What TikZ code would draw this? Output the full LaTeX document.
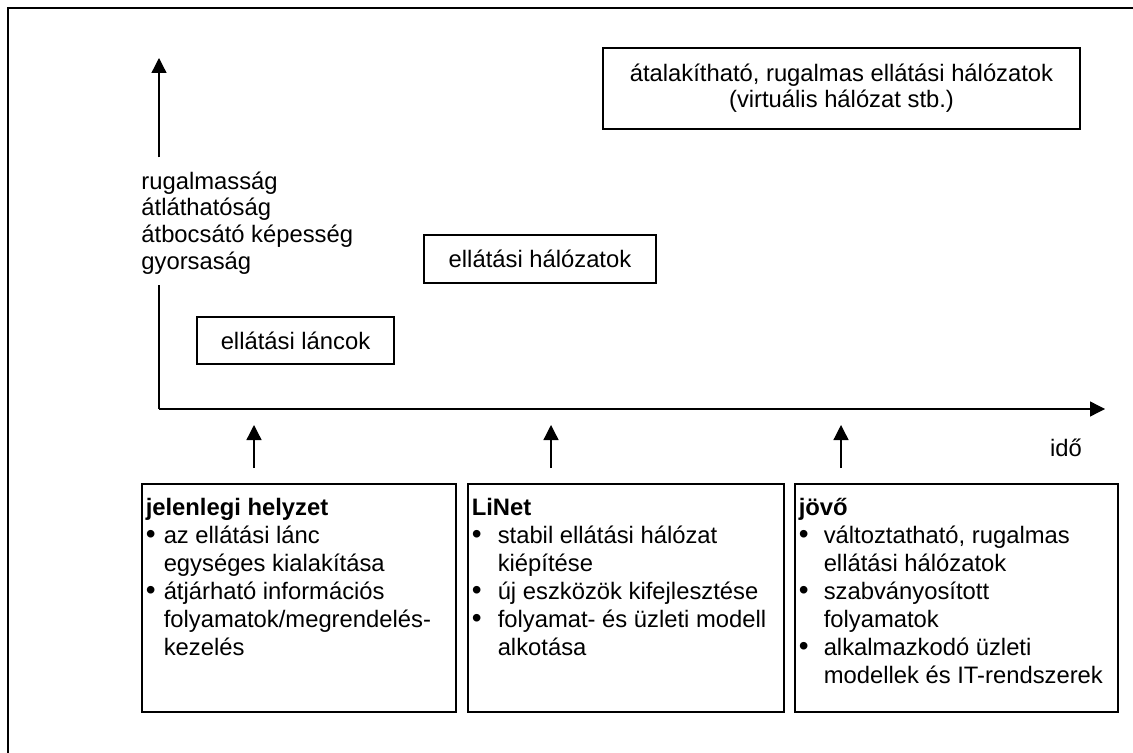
\documentclass[tikz,border=0pt]{standalone}
\usepackage{fontspec}
\setmainfont{Liberation Sans}
\usetikzlibrary{arrows.meta}
\newcommand{\stitem}[2]{\par\hangindent=#1\hangafter=1\noindent\makebox[#1][l]{\raisebox{-0.4pt}{\fontsize{14}{14}\selectfont\textbullet}}#2}
\newcommand{\stagetext}[2]{\parbox[c][100pt][t]{#1}{\fontsize{11.9}{14}\selectfont\parindent=0pt #2}}
\begin{document}
\begin{tikzpicture}[x=0.5pt,y=-0.5pt,font=\fontsize{11.9}{13.3}\selectfont,
  ax/.style={line width=0.65pt,-{Triangle[length=7.5pt,width=7.5pt]}},
  bx/.style={draw,line width=0.75pt,inner sep=0pt,align=center},
  st/.style={draw,line width=0.75pt,anchor=north west,inner xsep=2pt,inner ysep=7pt}]
  \useasboundingbox (0,0) rectangle (1133,753);
  \draw[line width=1pt] (1150,8) -- (8,8) -- (8,770);
  \coordinate (O) at (159,409);
  \coordinate (ytop) at (159,58);
  \coordinate (xend) at (1105,409);
  \node[anchor=west,align=left,inner sep=0pt] (ylbl) at (141,223) {rugalmasság\\átláthatóság\\átbocsátó képesség\\gyorsaság};
  \draw[line width=0.65pt] (O) -- ([yshift=-5pt]O |- ylbl.south);
  \draw[ax] ([yshift=7pt]O |- ylbl.north) -- (ytop);
  \draw[ax] (O) -- (xend);
  \node[inner sep=0pt] (time) at (1066,448) {idő};
  \node[bx,minimum width=98.5pt,minimum height=23.5pt] (chains) at (295.5,340.5) {ellátási láncok};
  \node[bx,minimum width=116pt,minimum height=24pt] (networks) at (540,259) {ellátási hálózatok};
  \node[bx,minimum width=238.5pt,minimum height=40.5pt,font=\fontsize{11.9}{13}\selectfont] (virtual) at (841.5,88.5) {átalakítható, rugalmas ellátási hálózatok\\(virtuális hálózat stb.)};
  \node[st] (now) at (141,483) {\stagetext{153pt}{\textbf{jelenlegi helyzet}\stitem{9pt}{az ellátási lánc\\egységes kialakítása}\stitem{9pt}{átjárható információs\\folyamatok/megrendelés-\\kezelés}}};
  \node[st] (linet) at (467,483) {\stagetext{154pt}{\textbf{LiNet}\stitem{13pt}{stabil ellátási hálózat\\kiépítése}\stitem{13pt}{új eszközök kifejlesztése}\stitem{13pt}{folyamat- és üzleti modell\\alkotása}}};
  \node[st] (future) at (794,483) {\stagetext{157.5pt}{\textbf{jövő}\stitem{12.5pt}{változtatható, rugalmas\\ellátási hálózatok}\stitem{12.5pt}{szabványosított\\folyamatok}\stitem{12.5pt}{alkalmazkodó üzleti\\modellek és IT-rendszerek}}};
  \foreach \n/\x in {1/254,2/551,3/841}{
    \coordinate (s\n) at (\x,468);
    \coordinate (t\n) at (\x,425);
    \draw[ax] (s\n) -- (t\n);
  }
\end{tikzpicture}
\end{document}
